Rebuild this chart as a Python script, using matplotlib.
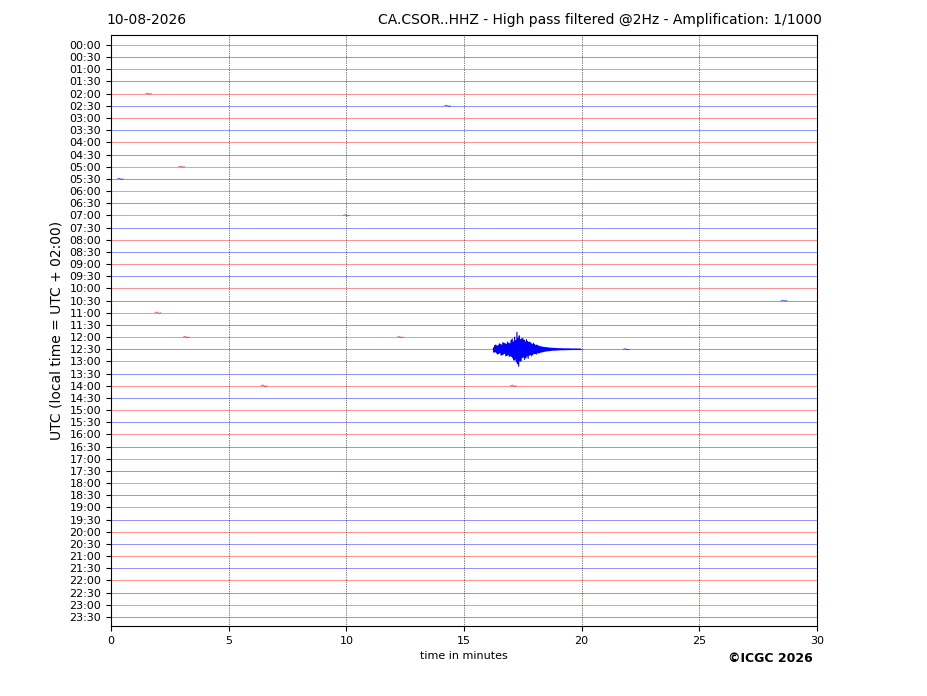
"""Helicorder CA.CSOR..HHZ - 24 h en trazas de 30 min."""
import matplotlib
matplotlib.use("Agg")
import matplotlib.pyplot as plt
import numpy as np

DATE_LABEL = "10-08-2026"
STATION_TITLE = "CA.CSOR..HHZ - High pass filtered @2Hz - Amplification: 1/1000"
TRACE_LABELS = [f"{h:02d}:{m:02d}" for h in range(24) for m in (0, 30)]
TRACE_COLORS = ["red", "blue"]
MINUTES = [0, 30]
X_TICKS = [0, 5, 10, 15, 20, 25, 30]

# evento en la traza 12:30 (amplitud en unidades de traza, + hacia arriba)
EVENT_TRACE = 25
EVENT_START = 16.25
EVENT_STEP = 0.025
EVENT_AMP = [
    0.10, -0.25, 0.30, -0.20, 0.35, -0.30, 0.25, -0.40, 0.30, -0.35,
    0.45, -0.30, 0.40, -0.50, 0.35, -0.45, 0.55, -0.40, 0.50, -0.35,
    0.45, -0.55, 0.40, -0.50, 0.60, -0.45, 0.50, -0.60, 0.45, -0.55,
    0.75, -0.60, 0.85, -0.70, 0.60, -0.90, 1.00, -0.80, 0.70, -1.05,
    1.40, -1.20, 0.90, -1.40, 1.10, -0.95, 0.80, -1.00, 0.85, -0.70,
    0.90, -0.65, 0.75, -0.85, 0.60, -0.70, 0.80, -0.55, 0.65, -0.75,
    0.55, -0.50, 0.60, -0.45, 0.50, -0.55, 0.40, -0.45, 0.50, -0.35,
    0.40, -0.35, 0.30, -0.40, 0.35, -0.30, 0.28, -0.32, 0.25, -0.28,
    0.22, -0.25, 0.20, -0.22, 0.18, -0.20, 0.16, -0.18, 0.15, -0.16,
    0.14, -0.15, 0.12, -0.14, 0.12, -0.12, 0.10, -0.11, 0.10, -0.10,
    0.09, -0.09, 0.08, -0.09, 0.08, -0.08, 0.07, -0.08, 0.07, -0.07,
    0.06, -0.07, 0.06, -0.06, 0.06, -0.06, 0.05, -0.06, 0.05, -0.05,
    0.05, -0.05, 0.05, -0.05, 0.04, -0.05, 0.04, -0.04, 0.04, -0.04,
    0.04, -0.04, 0.03, -0.04, 0.03, -0.03, 0.03, -0.03, 0.03, -0.03,
    0.03, -0.03, 0.03, -0.03, 0.02, -0.03, 0.02, -0.02, 0.02, -0.02,
]

# pequeños picos sueltos: (traza, minuto, amplitud)
BLIP_TRACE = [4, 5, 10, 11, 14, 22, 24, 24, 28, 28, 21, 25]
BLIP_MIN = [1.6, 14.3, 3.0, 0.4, 10.0, 2.0, 3.2, 12.3, 6.5, 17.1, 28.6, 21.9]
BLIP_AMP = [0.04, 0.05, 0.04, 0.05, 0.05, 0.06, 0.06, 0.04, 0.07, 0.06, 0.03, 0.05]


def main():
    fig = plt.figure(figsize=(9.27, 6.96), dpi=100)
    ax = fig.add_axes([111 / 927, 1 - 626 / 696, 706 / 927, 591 / 696])

    n = len(TRACE_LABELS)
    for i in range(n):
        ax.plot(MINUTES, [i, i], color=TRACE_COLORS[i % 2], linewidth=0.5, alpha=0.6)

    for t, m, a in zip(BLIP_TRACE, BLIP_MIN, BLIP_AMP):
        ax.plot([m - 0.12, m - 0.04, m + 0.04, m + 0.12], [t, t - a, t + a, t],
                color=TRACE_COLORS[t % 2], linewidth=0.6, alpha=0.7)

    amp = np.array(EVENT_AMP)
    tt = EVENT_START + EVENT_STEP * np.arange(len(amp))
    ax.plot(tt, EVENT_TRACE - amp, color="blue", linewidth=0.8)

    for x in X_TICKS[1:-1]:
        ax.axvline(x, color="black", linestyle=(0, (1, 1.5)), linewidth=0.5)

    ax.set_xlim(0, 30)
    ax.set_ylim(47.74, -0.82)
    ax.set_xticks(X_TICKS)
    ax.set_yticks(range(n))
    ax.set_yticklabels(TRACE_LABELS)
    ax.tick_params(labelsize=8)
    ax.set_xlabel("time in minutes", fontsize=8)
    ax.set_ylabel("UTC (local time = UTC + 02:00)", fontsize=10)

    fig.text(106 / 927, 1 - 20 / 696, DATE_LABEL, ha="left", va="center", fontsize=10)
    fig.text(822 / 927, 1 - 20 / 696, STATION_TITLE, ha="right", va="center", fontsize=10)
    fig.text(770 / 927, 1 - 659 / 696, "©ICGC 2026", ha="center", va="center",
             fontsize=9, fontweight="bold")

    fig.savefig("out.png", dpi=100)
    plt.close(fig)


if __name__ == "__main__":
    main()
